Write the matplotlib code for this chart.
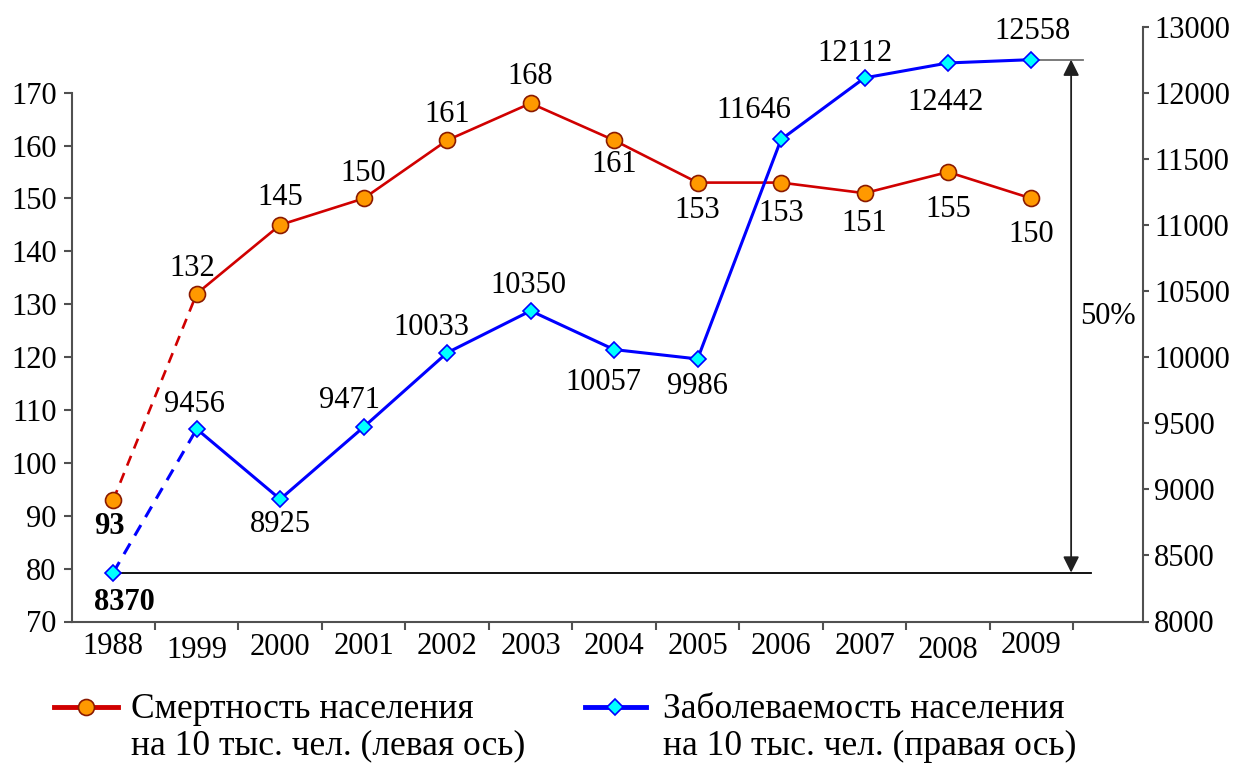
import numpy as np
import matplotlib
matplotlib.use('Agg')
from matplotlib import pyplot as plt
from matplotlib.lines import Line2D

plt.rcParams['font.family'] = ['Liberation Serif', 'DejaVu Serif']
plt.rcParams['font.size'] = 22

# data
years = ['1988', '1999', '2000', '2001', '2002', '2003', '2004', '2005',
         '2006', '2007', '2008', '2009']
# mortality per 10k (left axis)
mort = [93, 132, 145, 150, 161, 168, 161, 153, 153, 151, 155, 150]
mort_labels = ['93', '132', '145', '150', '161', '168', '161', '153',
               '153', '151', '155', '150']
# morbidity per 10k (right axis) - positions as drawn in the picture
morb = [8370, 9456, 8925, 9471, 10033, 10350, 10057, 9986, 11646, 12112,
        12225, 12250]
morb_labels = ['8370', '9456', '8925', '9471', '10033', '10350', '10057',
               '9986', '11646', '12112', '12442', '12558']
left_ticks = [70, 80, 90, 100, 110, 120, 130, 140, 150, 160, 170]
right_ticks = [8000, 8500, 9000, 9500, 10000, 10500, 11000, 11500, 12000, 12500]
right_tick_labels = ['8000', '8500', '9000', '9500', '10000', '10500',
                     '11000', '11500', '12000', '13000']

# label offsets in pixels (dx, dy)
mort_off = [(-4, -27), (-4, 25), (0, 27), (0, 25), (0, 26), (0, 27),
            (0, -24), (0, -28), (0, -31), (0, -30), (0, -37), (0, -36)]
morb_off = [(11, -30), (-2, 25), (0, -25), (-14, 27), (-16, 25), (-2, 25),
            (-11, -33), (0, -28), (-27, 29), (-10, 24), (-3, -40), (1, 28)]
# small vertical jitter of the year labels (pixels)
year_dy = [0, 4, 1, 0, 0, 0, 0, 0, 0, 0, 4, -1]

W, H = 1251, 765
fig = plt.figure(figsize=(W / 100, H / 100), dpi=100)
ax_l, ax_r, ax_b, ax_t = 71.5, 1142.5, 621.5, 26.6
ax = fig.add_axes([ax_l / W, 1 - ax_b / H, (ax_r - ax_l) / W, (ax_b - ax_t) / H])
ax2 = ax.twinx()

x = np.arange(len(years))
red = '#d00000'
blue = '#0000ff'
spine_c = '#505050'

ax.set_xlim(-0.5, 12.33)
ax.set_ylim(70, 182.5)
ax2.set_ylim(8000, 12500)

# mortality
ax.plot(x[:2], mort[:2], color=red, lw=1.9, dashes=(4, 3), zorder=3)
ax.plot(x[1:], mort[1:], color=red, lw=1.9, zorder=3)
ax.plot(x, mort, ls='none', marker='o', ms=11.5, mfc='#ff9900',
        mec='#8b1a00', mew=1.2, zorder=4)
for i in range(len(x)):
    dx, dy = mort_off[i]
    ax.annotate(mort_labels[i], (x[i], mort[i]), xytext=(dx * 0.72, dy * 0.72),
                textcoords='offset points', ha='center', va='center',
                fontweight='bold' if i == 0 else 'normal')

# morbidity
ax2.plot(x[:2], morb[:2], color=blue, lw=2.2, dashes=(4, 3), zorder=5)
ax2.plot(x[1:], morb[1:], color=blue, lw=2.2, zorder=5)
ax2.plot(x, morb, ls='none', marker='D', ms=8.5, mfc='#00ffff',
         mec=blue, mew=1.2, zorder=6)
for i in range(len(x)):
    dx, dy = morb_off[i]
    ax2.annotate(morb_labels[i], (x[i], morb[i]), xytext=(dx * 0.72, dy * 0.72),
                 textcoords='offset points', ha='center', va='center',
                 fontweight='bold' if i == 0 else 'normal')

# growth marker lines
last = len(x) - 1
ax2.plot([0, last + 0.71], [morb[0], morb[0]], color='black', lw=1.3, zorder=2)
ax2.plot([last, last + 0.62], [morb[-1], morb[-1]], color='#707070', lw=1.3, zorder=2)
ax2.annotate('', xy=(last + 0.475, morb[-1]), xytext=(last + 0.475, morb[0]),
             arrowprops=dict(arrowstyle='<|-|>', color='#202020', lw=1.3,
                             mutation_scale=24, shrinkA=0, shrinkB=0))
ax2.text(last + 0.91, (morb[0] + morb[-1]) / 2, '50%', ha='center', va='center')

# axes styling
for a in (ax, ax2):
    a.spines['top'].set_visible(False)
    for s in a.spines.values():
        s.set_color(spine_c)
        s.set_linewidth(1.5)
ax.spines['right'].set_visible(False)
ax2.spines['left'].set_visible(False)
ax2.spines['bottom'].set_visible(False)
ax.spines['left'].set_bounds(70, 170)

ax.set_yticks(left_ticks)
ax.tick_params(axis='y', direction='out', length=5.8, width=1.5,
               color=spine_c, pad=5)
ax2.set_yticks(right_ticks)
ax2.set_yticklabels(right_tick_labels)
ax2.tick_params(axis='y', direction='out', length=4.5, width=1.5,
                color=spine_c, pad=4)

ax.set_xticks(np.arange(0.5, 12, 1))
ax.set_xticklabels([])
ax.tick_params(axis='x', which='major', direction='out', length=5.8,
               width=1.5, color=spine_c)
ax.set_xticks(x, minor=True)
ax.set_xticklabels([])
ax.tick_params(axis='x', which='minor', length=0)
for i in range(len(x)):
    ax.annotate(years[i], (x[i], 0), xycoords=('data', 'axes fraction'),
                xytext=(0, -(25 + year_dy[i]) * 0.72), textcoords='offset points',
                ha='center', va='center')

# legend drawn in figure pixels
def fx(px):
    return px / W

def fy(py):
    return 1 - py / H

fig.add_artist(Line2D([fx(54), fx(118)], [fy(707), fy(707)], color=red, lw=3.5,
                      transform=fig.transFigure))
fig.add_artist(Line2D([fx(86)], [fy(707)], marker='o', ms=11.5, mfc='#ff9900',
                      mec='#8b1a00', mew=1.2, transform=fig.transFigure))
fig.text(fx(131), fy(728), 'Смертность населения\nна 10 тыс. чел. (левая ось)',
         ha='left', va='center', linespacing=1.12, fontsize=25.5)
fig.add_artist(Line2D([fx(585), fx(646)], [fy(707), fy(707)], color=blue, lw=3.5,
                      transform=fig.transFigure))
fig.add_artist(Line2D([fx(615)], [fy(707)], marker='D', ms=8.5, mfc='#00ffff',
                      mec=blue, mew=1.2, transform=fig.transFigure))
fig.text(fx(663), fy(728), 'Заболеваемость населения\nна 10 тыс. чел. (правая ось)',
         ha='left', va='center', linespacing=1.12, fontsize=25.5)

fig.savefig('out.png', dpi=100)
